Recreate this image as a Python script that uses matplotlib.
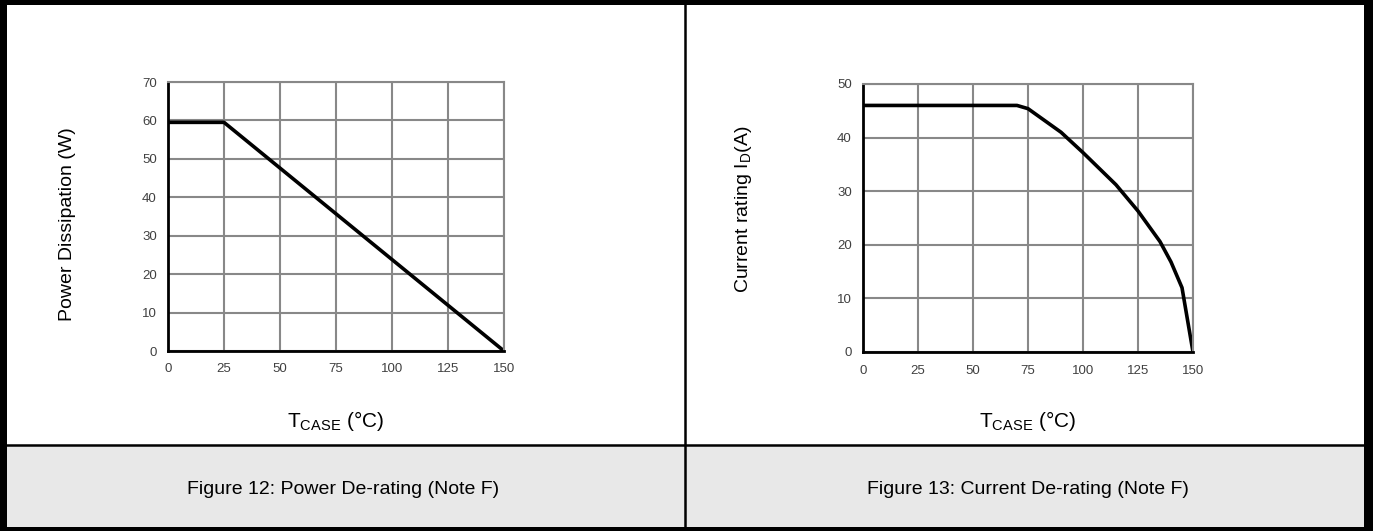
import numpy as np
import matplotlib
matplotlib.use('Agg')
import matplotlib.pyplot as plt
from matplotlib.patches import Rectangle

plt.rcParams['font.family'] = ['Liberation Sans', 'DejaVu Sans']
plt.rcParams['mathtext.fontset'] = 'custom'
plt.rcParams['mathtext.rm'] = 'Liberation Sans'

# Figure 12: power de-rating
temp_power = [0, 25, 150]
power = [59.5, 59.5, 0]

# Figure 13: current de-rating
temp_current = [0, 70, 75, 90, 100, 110, 115, 125, 135, 140, 145, 150]
current = [46, 46, 45.4, 41, 37.2, 33.2, 31.2, 26.3, 20.6, 16.8, 12, 0]

x_ticks = [0, 25, 50, 75, 100, 125, 150]
power_ticks = [0, 10, 20, 30, 40, 50, 60, 70]
current_ticks = [0, 10, 20, 30, 40, 50]

captions = ['Figure 12: Power De-rating (Note F)', 'Figure 13: Current De-rating (Note F)']

W, H = 1373, 531
fig = plt.figure(figsize=(W/100, H/100), dpi=100)
fig.patch.set_facecolor('white')

# frame / table layout in pixel coords
bg = fig.add_axes([0, 0, 1, 1], zorder=0)
bg.set_xlim(0, W); bg.set_ylim(H, 0); bg.axis('off')
bg.add_patch(Rectangle((0, 445), W, H-445, facecolor='#e8e8e8', edgecolor='none'))
bg.plot([0, W], [445, 445], color='black', lw=1.8)
bg.plot([685, 685], [0, H], color='black', lw=1.8)
bg.add_patch(Rectangle((0, 0), W, 5, facecolor='black', edgecolor='none'))
bg.add_patch(Rectangle((0, 0), 7, H, facecolor='black', edgecolor='none'))
bg.add_patch(Rectangle((1364, 0), W-1364, H, facecolor='black', edgecolor='none'))
bg.add_patch(Rectangle((0, H-4), W, 4, facecolor='black', edgecolor='none'))

def setup(ax, yticks):
    ax.set_xlim(0, 150)
    ax.set_ylim(yticks[0], yticks[-1])
    ax.set_xticks(x_ticks)
    ax.set_yticks(yticks)
    ax.grid(True, color='#888888', lw=1.5)
    ax.set_axisbelow(True)
    for s in ['top', 'right']:
        ax.spines[s].set_color('#888888')
        ax.spines[s].set_linewidth(1.5)
    for s in ['left', 'bottom']:
        ax.spines[s].set_color('black')
        ax.spines[s].set_linewidth(2)
    ax.tick_params(length=0, labelsize=9.5, colors='#404040')
    ax.tick_params(axis='x', pad=9)
    ax.tick_params(axis='y', pad=8)
    ax.patch.set_alpha(0)

ax1 = fig.add_axes([168/W, 1-351/H, 336/W, 269/H], zorder=2)
ax1.plot(temp_power, power, color='black', lw=2.6, solid_capstyle='butt')
setup(ax1, power_ticks)

ax2 = fig.add_axes([863/W, 1-352/H, 330/W, 268/H], zorder=2)
ax2.plot(temp_current, current, color='black', lw=2.6, solid_capstyle='butt')
setup(ax2, current_ticks)

fig.text(68/W, 1-224/H, 'Power Dissipation (W)', rotation=90, ha='center', va='center', fontsize=14)
fig.text(744/W, 1-209/H, r'Current rating I$_\mathregular{D}$(A)', rotation=90, ha='center', va='center', fontsize=14)
fig.text(336/W, 1-421/H, r'T$_\mathregular{CASE}$ (°C)', ha='center', va='center', fontsize=15)
fig.text(1028/W, 1-421/H, r'T$_\mathregular{CASE}$ (°C)', ha='center', va='center', fontsize=15)
fig.text(343/W, 1-489/H, captions[0], ha='center', va='center', fontsize=14)
fig.text(1028/W, 1-489/H, captions[1], ha='center', va='center', fontsize=14)

fig.savefig('out.png', dpi=100)
